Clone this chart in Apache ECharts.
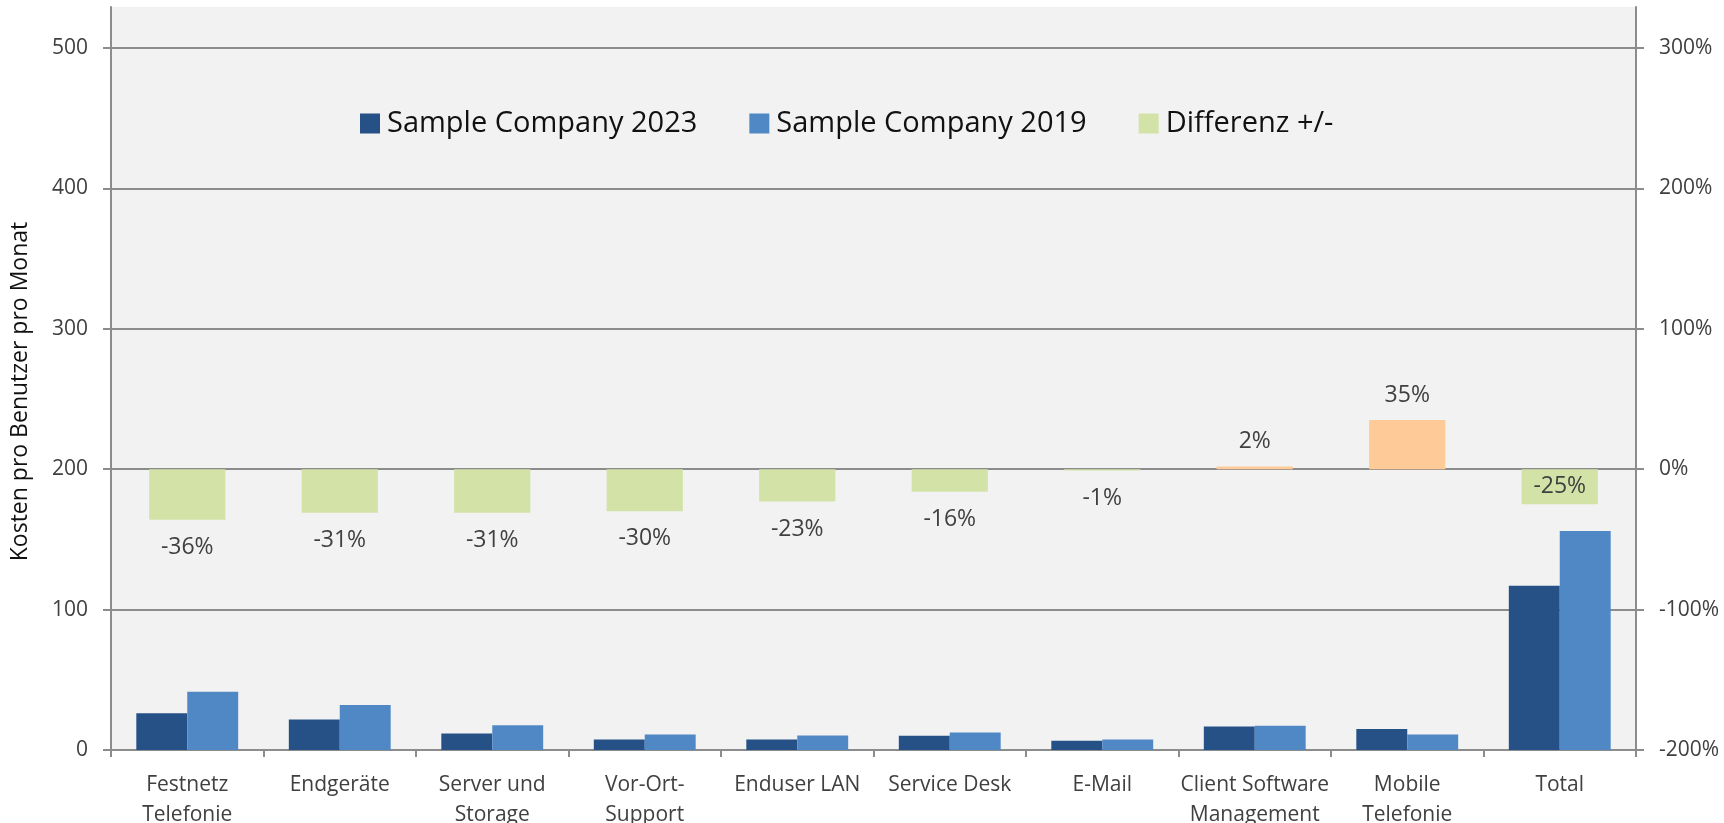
<!DOCTYPE html>
<html>
<head>
<meta charset="utf-8">
<title>Kosten pro Benutzer pro Monat</title>
<script src="https://cdn.jsdelivr.net/npm/echarts@6/dist/echarts.min.js"></script>
<style>
  html, body { margin: 0; padding: 0; background: #ffffff; }
  #chart { width: 1724px; height: 823px; }
</style>
</head>
<body>
<div id="chart"></div>
<script>
// Cost categories (x axis)
const categories = [
  'Festnetz\nTelefonie', 'Endgeräte', 'Server und\nStorage', 'Vor-Ort-\nSupport',
  'Enduser LAN', 'Service Desk', 'E-Mail', 'Client Software\nManagement',
  'Mobile\nTelefonie', 'Total'
];

// Cost per user per month
const company2023 = [26.1, 21.8, 11.8, 7.4, 7.4, 10.1, 6.5, 16.8, 14.9, 117];
const company2019 = [41.5, 32.1, 17.7, 11.0, 10.3, 12.5, 7.4, 17.2, 11.0, 156];

// Change 2019 -> 2023 in percent (right axis)
const differenz = [-36, -31, -31, -30, -23, -16, -1, 2, 35, -25];

// Tick values of both value axes
const leftTicks = [0, 100, 200, 300, 400, 500];
const rightTicks = [-200, -100, 0, 100, 200, 300];

const FONT = 'Open Sans';
const AXIS_GREY = '#8c8c8c';
const TEXT = '#404040';

// The plot area runs a little above the top tick on both axes
const headroom = 29.2;

const diffData = differenz.map((v, i) => {
  const isTotal = categories[i] === 'Total';
  return {
    value: v,
    itemStyle: v > 0 ? { color: '#fdca98' } : undefined,
    label: isTotal
      ? { position: 'inside' }
      : { position: v >= 0 ? 'top' : 'bottom', distance: v >= 0 ? 13 : 16 }
  };
});

const chart = echarts.init(document.getElementById('chart'), null, { renderer: 'canvas' });

chart.setOption({
  animation: false,
  backgroundColor: '#ffffff',
  textStyle: { fontFamily: FONT },
  grid: {
    left: 111, right: 88, top: 7, bottom: 73,
    outerBoundsMode: 'none',
    containLabel: false,
    show: true, backgroundColor: '#f2f2f2', borderWidth: 0
  },
  legend: {
    left: 355, top: 104,
    itemWidth: 20, itemHeight: 20, itemGap: 52,
    icon: 'rect',
    textStyle: { fontFamily: FONT, fontSize: 29, color: '#111111', padding: [0, 0, 0, 2] },
    data: ['Sample Company 2023', 'Sample Company 2019', 'Differenz +/-']
  },
  xAxis: [
    {
      type: 'category',
      data: categories,
      boundaryGap: true,
      axisLine: { show: true, lineStyle: { color: AXIS_GREY, width: 2 } },
      axisTick: { show: true, interval: 0, length: 7, lineStyle: { color: AXIS_GREY, width: 2 } },
      axisLabel: {
        interval: 0, margin: 20, fontFamily: FONT, fontSize: 21,
        lineHeight: 30, color: TEXT, align: 'center'
      },
      splitLine: { show: false }
    },
    {
      type: 'category',
      data: categories,
      show: false
    }
  ],
  yAxis: [
    {
      type: 'value',
      name: 'Kosten pro Benutzer pro Monat',
      nameLocation: 'middle',
      nameRotate: 90,
      nameGap: 79,
      nameTextStyle: { fontFamily: FONT, fontSize: 23, color: '#111111', padding: [0, 26, 0, 0] },
      min: 0,
      max: leftTicks[leftTicks.length - 1] + headroom,
      interval: 100,
      axisLine: { show: true, lineStyle: { color: AXIS_GREY, width: 2 } },
      axisTick: { show: true, length: 8, customValues: leftTicks, lineStyle: { color: AXIS_GREY, width: 2 } },
      axisLabel: {
        margin: 23, fontFamily: FONT, fontSize: 21, color: TEXT, align: 'right',
        formatter: v => (leftTicks.indexOf(v) >= 0 ? String(v) : '')
      },
      splitLine: { show: false }
    },
    {
      type: 'value',
      position: 'right',
      min: rightTicks[0],
      max: rightTicks[rightTicks.length - 1] + headroom,
      interval: 100,
      axisLine: { show: true, lineStyle: { color: AXIS_GREY, width: 2 } },
      axisTick: { show: true, length: 8, customValues: rightTicks, lineStyle: { color: AXIS_GREY, width: 2 } },
      axisLabel: {
        margin: 23, fontFamily: FONT, fontSize: 21, color: TEXT, align: 'left',
        formatter: v => (rightTicks.indexOf(v) >= 0 ? v + '%' : '')
      },
      splitLine: { show: false }
    }
  ],
  series: [
    {
      name: 'Sample Company 2023',
      type: 'bar',
      xAxisIndex: 0, yAxisIndex: 0,
      data: company2023,
      barWidth: '33.4%',
      barGap: '0%',
      itemStyle: { color: '#265187' },
      z: 3,
      // horizontal gridlines at the left-axis ticks, kept under the bars
      markLine: {
        silent: true,
        symbol: ['none', 'none'],
        z: 1,
        label: { show: false },
        lineStyle: { color: AXIS_GREY, width: 2, type: 'solid' },
        data: leftTicks.slice(1).map(v => ({ yAxis: v }))
      }
    },
    {
      name: 'Sample Company 2019',
      type: 'bar',
      xAxisIndex: 0, yAxisIndex: 0,
      data: company2019,
      barWidth: '33.4%',
      barGap: '0%',
      itemStyle: { color: '#5088c6' },
      z: 3
    },
    {
      name: 'Differenz +/-',
      type: 'bar',
      xAxisIndex: 1, yAxisIndex: 1,
      data: diffData,
      barWidth: '50%',
      itemStyle: { color: '#d3e3a8' },
      z: 3,
      label: {
        show: true,
        fontFamily: FONT, fontSize: 23, color: TEXT,
        formatter: p => p.value + '%'
      }
    }
  ]
});
</script>
</body>
</html>
